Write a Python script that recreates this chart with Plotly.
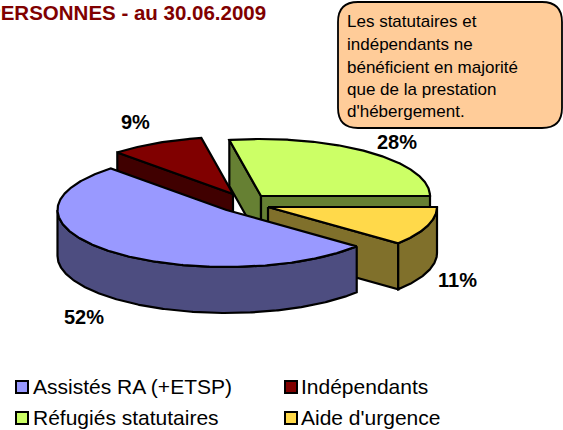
import numpy as np
import plotly.graph_objects as go

# --- data ---
categories = ["Assistés RA (+ETSP)", "Indépendants", "Réfugiés statutaires", "Aide d'urgence"]
values = [52, 9, 28, 11]
title_text = "PERSONNES - au 30.06.2009"
callout_lines = ["Les statutaires et", "indépendants ne", "bénéficient en majorité",
                 "que de la prestation", "d'hébergement."]

# --- styles / layout ---
top_colors = ["#9999FF", "#800000", "#CCFF66", "#FFD94A"]
side_colors = ["#4D4D80", "#400000", "#668033", "#80702B"]
apex = [(226.5, 210), (233, 194), (261, 196), (268, 207)]
label_pos = [(84, 317), (135, 122), (397, 142), (457, 280)]
legend_pos = [(22, 387), (291, 387), (22, 418), (291, 418)]
legend_text_pos = [(33, 388.5), (301, 388.5), (33, 419.5), (301, 419.5)]
draw_order = [1, 2, 3, 0]
first_angle = 129.6
RX, RY, DEPTH = 169, 57, 46
W, H = 563, 430
FONT = "Liberation Sans, Arial"

fig = go.Figure()


def arc(c, a0, a1, dz=0):
    t = np.radians(np.linspace(a0, a1, max(int(abs(a1 - a0)) * 2, 2)))
    return c[0] + RX * np.sin(t), c[1] - RY * np.cos(t) + dz


def poly(x, y, color, name):
    fig.add_trace(go.Scatter(x=np.r_[x, x[0]], y=np.r_[y, y[0]], mode="lines", fill="toself",
                             fillcolor=color, line=dict(color="black", width=2.2),
                             name=name, showlegend=False, hoverinfo="name"))


edges = first_angle + 3.6 * np.r_[0, np.cumsum(values)]
for i in draw_order:
    a0, a1 = edges[i], edges[i + 1]
    c = apex[i]
    name = categories[i]
    # cut faces turned towards the viewer
    for a, normal in ((a0, a0 - 90), (a1, a1 + 90)):
        if np.cos(np.radians(normal)) < -1e-6:
            ox, oy = arc(c, a, a + 0.01)
            ox, oy = ox[0], oy[0]
            poly(np.array([c[0], ox, ox, c[0]], float),
                 np.array([c[1], oy, oy + DEPTH, c[1] + DEPTH], float), side_colors[i], name)
    # outer wall, front half of the ellipse only
    for lo, hi in ((a0, a1), (a0 - 360, a1 - 360)):
        lo2, hi2 = max(lo, 90), min(hi, 270)
        if hi2 > lo2:
            xt, yt = arc(c, lo2, hi2)
            xb, yb = arc(c, lo2, hi2, DEPTH)
            poly(np.r_[xt, xb[::-1]], np.r_[yt, yb[::-1]], side_colors[i], name)
    # top face
    xt, yt = arc(c, a0, a1)
    poly(np.r_[c[0], xt], np.r_[c[1], yt], top_colors[i], name)

# legend keys and texts
fig.add_trace(go.Scatter(
    x=[p[0] for p in legend_pos], y=[p[1] for p in legend_pos], mode="markers",
    marker=dict(symbol="square", size=12, color=top_colors, line=dict(color="black", width=2)),
    showlegend=False, hoverinfo="skip"))
fig.add_trace(go.Scatter(
    x=[p[0] for p in legend_text_pos], y=[p[1] for p in legend_text_pos], mode="text",
    text=categories, textposition="middle right",
    textfont=dict(family=FONT, size=21, color="black"),
    showlegend=False, hoverinfo="skip"))

# callout box
x0, x1, y0, y1, r = 338, 562, 2, 128, 20
box = (f"M {x0+r} {y0} L {x1-r} {y0} Q {x1} {y0} {x1} {y0+r} L {x1} {y1-r} Q {x1} {y1} {x1-r} {y1} "
       f"L {x0+r} {y1} Q {x0} {y1} {x0} {y1-r} L {x0} {y0+r} Q {x0} {y0} {x0+r} {y0} Z")
fig.add_shape(type="path", path=box, fillcolor="#FFCC99", line=dict(color="black", width=1.8), layer="above")

annots = []
for line, yy in zip(callout_lines, [21, 44, 67, 89, 111]):
    annots.append(dict(x=345, y=yy, text=line, xanchor="left", yanchor="middle", showarrow=False,
                       font=dict(family=FONT, size=17, color="black")))
for v, (lx, ly) in zip(values, label_pos):
    annots.append(dict(x=lx, y=ly, text=f"<b>{v}%</b>", xanchor="center", yanchor="middle", showarrow=False,
                       font=dict(family=FONT, size=20, color="black")))
annots.append(dict(x=268, y=12, text=f"<b>{title_text}</b>", xanchor="right", yanchor="middle", showarrow=False,
                   font=dict(family=FONT, size=20.5, color="#800000")))

fig.update_layout(
    width=W, height=H, margin=dict(l=0, r=0, t=0, b=0), paper_bgcolor="white", plot_bgcolor="white",
    xaxis=dict(range=[0, W], visible=False, fixedrange=True),
    yaxis=dict(range=[H, 0], visible=False, fixedrange=True),
    showlegend=False, annotations=annots)

fig.write_html("out.html", config=dict(displayModeBar=False),
               post_script="document.body.style.margin='0';")
